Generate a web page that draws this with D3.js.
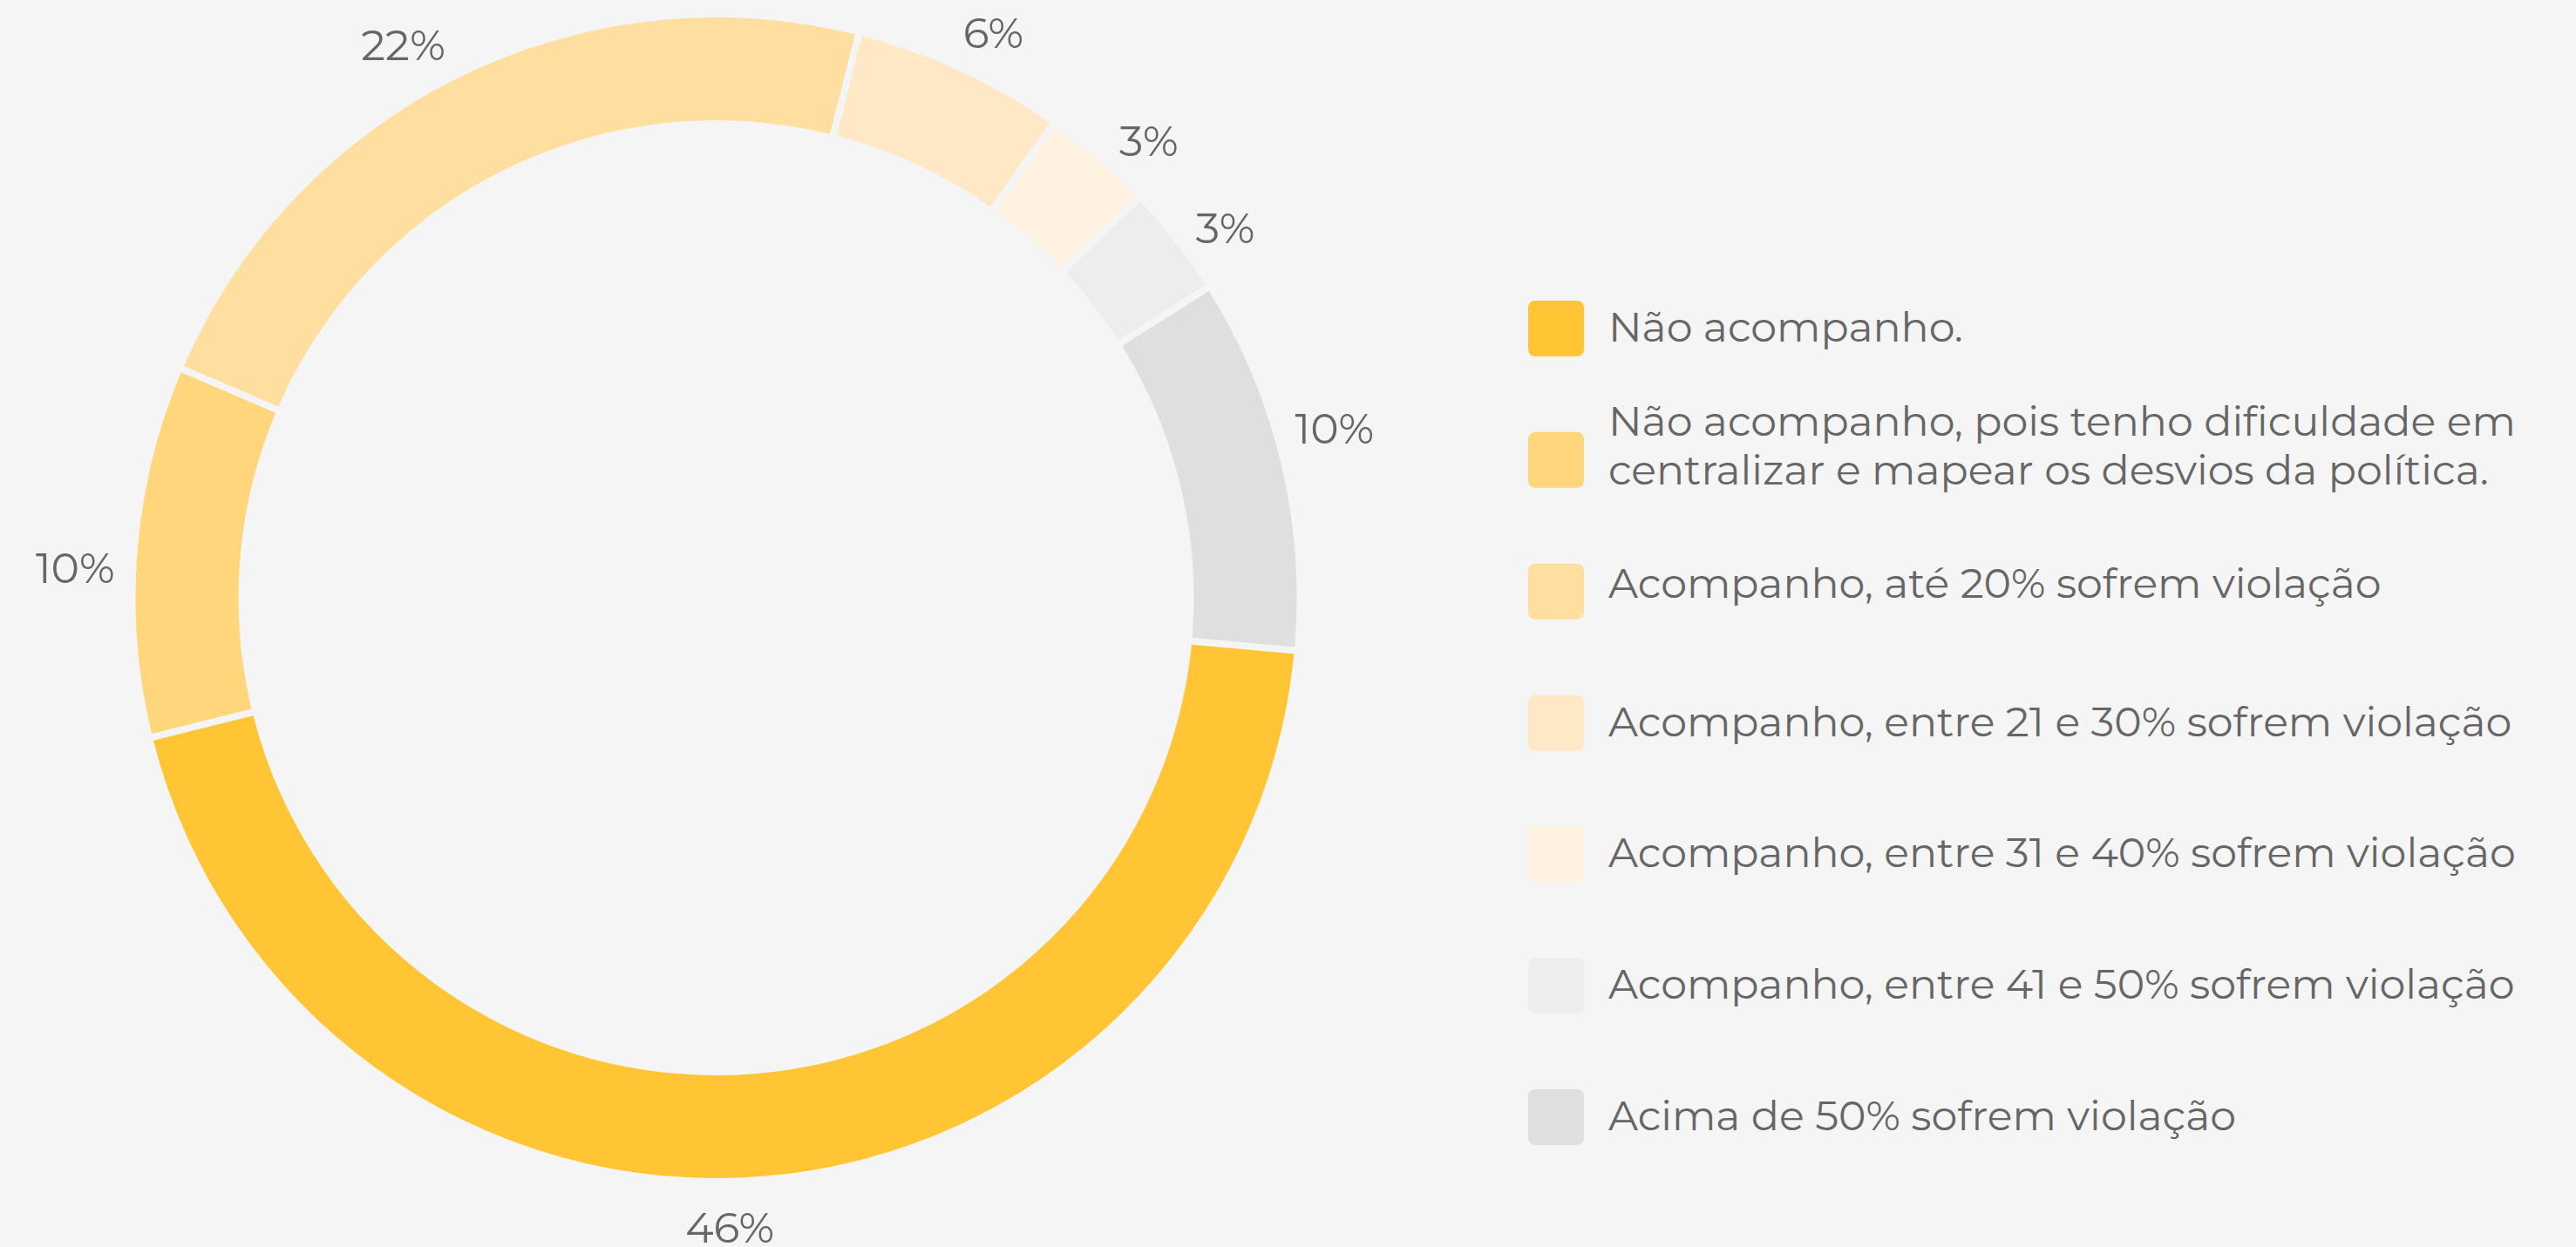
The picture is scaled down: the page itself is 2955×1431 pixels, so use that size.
<!DOCTYPE html>
<html>
<head>
<meta charset="utf-8">
<script src="https://cdn.jsdelivr.net/npm/d3@7"></script>
<style>
  html, body { margin: 0; padding: 0; background: #f5f5f5; }
  svg { display: block; font-family: "Montserrat", "Open Sans", sans-serif; }
</style>
</head>
<body>
<svg width="2955" height="1431"></svg>
<script>
// answers, in the order the slices run (clockwise)
var categories = [
  "Não acompanho.",
  "Não acompanho, pois tenho dificuldade em\ncentralizar e mapear os desvios da política.",
  "Acompanho, até 20% sofrem violação",
  "Acompanho, entre 21 e 30% sofrem violação",
  "Acompanho, entre 31 e 40% sofrem violação",
  "Acompanho, entre 41 e 50% sofrem violação",
  "Acima de 50% sofrem violação"
];
// share of the ring each slice takes
var shares = [44.7, 10.3, 22.5, 5.9, 3.1, 3.1, 10.4];
// the printed labels
var percentLabels = ["46%", "10%", "22%", "6%", "3%", "3%", "10%"];
var colors = ["#ffc535", "#ffd67c", "#ffdfa0", "#ffe8c5", "#fff2e1", "#ededed", "#dfdfdf"];

var svg = d3.select("svg"),
    width = +svg.attr("width"),
    height = +svg.attr("height");

var cx = 821.5, cy = 686;
var start = 95.2 * Math.PI / 180;

var pie = d3.pie()
    .sort(null)
    .value(function(d) { return d; })
    .startAngle(start)
    .endAngle(start + 2 * Math.PI);

var arc = d3.arc()
    .innerRadius(548)
    .outerRadius(666)
    .padRadius(600)
    .padAngle(8 / 600);

// labels sit a little off the slice middles, as in the original
var nudge = [3.1, -2.0, -3.2, 1.3, 2.4, 1.8, -1.8];
var labelR = 722;

var color = d3.scaleOrdinal().domain(d3.range(categories.length)).range(colors);

var g = svg.append("g").attr("transform", "translate(" + cx + "," + cy + ")");

var arcs = pie(shares);

g.selectAll(".slice")
    .data(arcs)
  .enter().append("path")
    .attr("class", "slice")
    .attr("d", arc)
    .style("fill", function(d, i) { return color(i); });

g.selectAll(".pct")
    .data(arcs)
  .enter().append("text")
    .attr("class", "pct")
    .attr("transform", function(d, i) {
      var a = (d.startAngle + d.endAngle) / 2 + nudge[i] * Math.PI / 180;
      var r = labelR + Math.abs(Math.sin(a)) * (percentLabels[i].length > 2 ? 14 : 0);
      return "translate(" + (Math.sin(a) * r) + "," + (-Math.cos(a) * r) + ")";
    })
    .attr("dy", "0.36em")
    .style("text-anchor", "middle")
    .style("font-size", "49px")
    .style("fill", "#666")
    .text(function(d, i) { return percentLabels[i]; });

// legend
var y = d3.scalePoint().domain(d3.range(categories.length)).range([377, 1282]);

var item = svg.selectAll(".legend")
    .data(categories)
  .enter().append("g")
    .attr("class", "legend")
    .attr("transform", function(d, i) { return "translate(1753," + y(i) + ")"; });

item.append("rect")
    .attr("x", 0)
    .attr("y", -32)
    .attr("width", 64)
    .attr("height", 64)
    .attr("rx", 8)
    .style("fill", function(d, i) { return color(i); });

item.append("text")
    .attr("x", 92)
    .attr("y", function(d, i) {
      var lines = d.split("\n").length;
      if (lines > 1) return -28;
      return i == 2 ? 7 : 15;
    })
    .style("font-size", "47.5px")
    .style("fill", "#666")
    .selectAll("tspan")
    .data(function(d) { return d.split("\n"); })
  .enter().append("tspan")
    .attr("x", 92)
    .attr("dy", function(d, j) { return j ? 56 : 0; })
    .text(function(d) { return d; });
</script>
</body>
</html>
